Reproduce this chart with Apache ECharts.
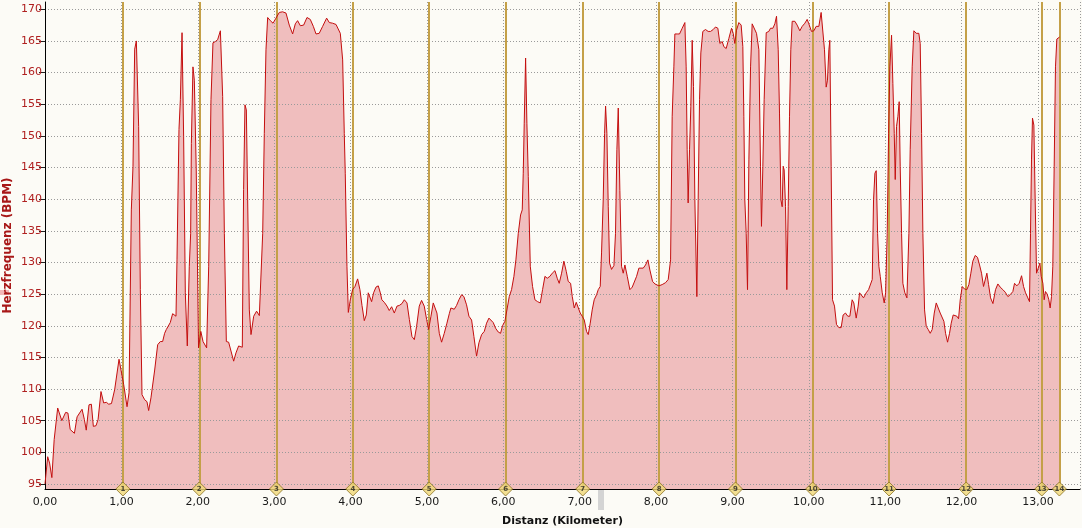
<!DOCTYPE html>
<html>
<head>
<meta charset="utf-8">
<script src="https://cdn.jsdelivr.net/npm/echarts@6/dist/echarts.min.js"></script>
<style>
html,body{margin:0;padding:0;background:#fcfbf6;}
#chart{width:1082px;height:528px;}
</style>
</head>
<body>
<div id="chart"></div>
<script>
// ---- data ----
const distKm = [
0.00,0.035,0.06,0.09,0.12,0.166,0.22,0.27,0.30,0.33,0.385,0.42,0.485,0.515,0.54,0.576,0.607,0.633,0.668,0.695,
0.733,0.768,0.803,0.834,0.87,0.912,0.969,0.995,1.03,1.074,1.10,1.13,1.152,1.174,1.196,1.226,1.248,1.27,1.305,1.335,
1.357,1.387,1.436,1.475,1.51,1.54,1.566,1.588,1.614,1.64,1.671,1.715,1.728,1.754,1.772,1.794,1.815,1.837,1.863,1.889,
1.907,1.916,1.937,1.955,1.98,2.01,2.04,2.069,2.116,2.143,2.173,2.199,2.23,2.26,2.296,2.326,2.348,2.374,2.404,2.435,
2.47,2.5,2.535,2.583,2.6,2.618,2.636,2.653,2.675,2.697,2.732,2.77,2.806,2.828,2.85,2.871,2.893,2.915,2.95,2.985,
3.024,3.067,3.111,3.155,3.198,3.242,3.277,3.307,3.343,3.386,3.43,3.473,3.513,3.548,3.59,3.635,3.687,3.722,3.765,3.81,
3.83,3.866,3.897,3.918,3.931,3.953,3.971,3.997,4.027,4.058,4.093,4.123,4.15,4.18,4.206,4.232,4.25,4.276,4.302,4.333,
4.363,4.39,4.41,4.442,4.477,4.507,4.538,4.573,4.608,4.638,4.673,4.704,4.739,4.77,4.804,4.835,4.865,4.9,4.93,4.965,
4.996,5.022,5.053,5.083,5.109,5.131,5.162,5.192,5.227,5.262,5.293,5.314,5.358,5.388,5.419,5.454,5.484,5.519,5.55,5.585,
5.615,5.65,5.681,5.716,5.751,5.781,5.812,5.838,5.868,5.899,5.934,5.964,5.99,6.021,6.052,6.078,6.108,6.139,6.165,6.196,
6.226,6.248,6.261,6.274,6.292,6.309,6.327,6.353,6.383,6.414,6.449,6.484,6.514,6.545,6.575,6.61,6.641,6.676,6.706,6.732,
6.763,6.793,6.824,6.85,6.881,6.903,6.929,6.955,6.981,7.007,7.033,7.06,7.09,7.112,7.138,7.164,7.19,7.221,7.243,7.269,
7.286,7.308,7.326,7.339,7.356,7.374,7.391,7.417,7.448,7.469,7.487,7.505,7.526,7.548,7.57,7.592,7.623,7.657,7.688,7.714,
7.745,7.775,7.801,7.832,7.862,7.893,7.919,7.954,7.985,8.037,8.08,8.124,8.159,8.19,8.211,8.233,8.246,8.277,8.307,8.342,
8.377,8.394,8.407,8.42,8.438,8.455,8.473,8.49,8.508,8.534,8.551,8.569,8.586,8.612,8.647,8.682,8.713,8.748,8.778,8.809,
8.835,8.866,8.887,8.918,8.953,8.988,9.01,9.031,9.053,9.084,9.114,9.136,9.149,9.162,9.18,9.197,9.215,9.237,9.258,9.284,
9.315,9.346,9.367,9.38,9.398,9.415,9.442,9.476,9.498,9.529,9.555,9.577,9.599,9.616,9.634,9.651,9.664,9.677,9.695,9.712,
9.73,9.747,9.764,9.782,9.817,9.847,9.882,9.913,9.948,9.978,10.0,10.035,10.066,10.096,10.131,10.161,10.183,10.205,10.227,10.244,
10.262,10.275,10.292,10.31,10.336,10.362,10.393,10.423,10.449,10.48,10.51,10.537,10.567,10.589,10.62,10.646,10.664,10.686,10.716,10.751,
10.782,10.808,10.83,10.847,10.865,10.882,10.9,10.917,10.935,10.961,10.987,11.005,11.026,11.044,11.061,11.083,11.1,11.118,11.131,11.148,
11.166,11.183,11.196,11.214,11.231,11.257,11.284,11.31,11.327,11.353,11.375,11.406,11.44,11.458,11.476,11.493,11.515,11.537,11.563,11.589,
11.615,11.642,11.668,11.694,11.72,11.746,11.768,11.79,11.816,11.842,11.864,11.89,11.916,11.938,11.96,11.982,12.008,12.038,12.069,12.095,
12.121,12.147,12.178,12.208,12.235,12.261,12.287,12.304,12.331,12.353,12.379,12.41,12.444,12.475,12.505,12.54,12.571,12.606,12.636,12.671,
12.693,12.723,12.754,12.785,12.811,12.837,12.867,12.889,12.902,12.915,12.928,12.946,12.963,12.981,13.003,13.025,13.042,13.064,13.081,13.098,
13.12,13.142,13.159,13.177,13.194,13.212,13.229,13.247,13.268,13.282
];
const heartRate = [
95,99.3,98.3,96,102,107,105,106.3,106.2,103.6,103,105.6,106.8,105.2,103.5,107.5,107.6,104.1,104.2,105.2,
109.6,107.8,107.9,107.6,107.7,109.9,114.7,114.5,110.7,107.2,109.4,138.3,145.2,163.7,165,151.5,125.7,109.1,108.3,108,
106.6,108.6,113,117,117.5,117.5,118.8,119.4,119.2,120.5,121.9,121.5,130.4,151,155.7,166.3,149.9,125.2,116.8,129.4,
134.6,148.8,160.9,158.8,144.6,116.5,119.1,117.5,116.5,129.4,155.7,164.7,164.9,165.2,166.6,156.2,134.6,117.5,117.4,116,
114.4,115.7,116.8,116.6,141.5,154.9,154.1,140,122.5,118.6,121.5,122.3,121.6,121.7,134.6,150.4,163.6,168.7,168.2,167.8,
168.6,169.5,169.6,169.4,167.5,166.1,167.7,168.2,167.4,167.5,168.7,168.4,167.3,166.1,166.2,167.3,168.6,167.9,167.8,167.6,
167.8,166.2,162,150.4,144.1,129.4,122.1,124.1,125.7,126.2,127.4,125.7,123.2,120.8,121.7,125.2,125.4,123.8,125.2,126.1,
126.3,125.2,124.1,123.7,123.1,122.4,123,122,123.1,123.2,123.5,124.1,123.6,121,118.3,117.8,119.9,123.1,124,123.1,
121,119.4,121.5,123.6,123.8,122,118.8,117.4,118.8,120.4,121.9,122.8,122.6,123.2,124.1,124.9,124.6,123.3,121.5,120.9,
118.3,115.2,117.3,118.6,119.1,120.4,121.2,121.4,120.5,119.6,119,118.8,120,120.7,122.8,124.6,125.7,127.8,130.4,134.6,
137.5,138.3,144.1,152,162.3,152,143.6,129.4,126.2,124.1,123.8,123.6,125.7,127.8,127.5,127.8,128.3,128.7,127.5,126.7,
128.3,130.2,128.6,127,126.7,124.6,122.8,123.7,123.5,122,121.5,120.9,119.1,118.6,120.4,122.5,124.1,124.9,125.7,126.2,
131.5,139.9,150.4,154.7,150.4,138.8,129.9,128.9,129.5,134.6,147.8,154.4,141.4,129.4,128.3,129.6,127.8,125.7,126.1,126.1,
127.8,129.1,129.4,129.1,129.6,130.4,128.8,127,126.6,126.3,126.5,126.8,127.3,130.4,153.1,160.9,166.1,166.1,166.1,167,
167.9,160.9,147.8,139.4,147.8,154.6,165.1,157.8,139.9,124.6,139.9,155.7,163.1,166.5,166.8,166.5,166.5,166.8,167.2,167,
164.6,164.9,164.1,163.8,165.4,167,166.2,164.6,166.7,167.9,167.5,164.1,153.1,139.9,134.6,125.7,146.2,160.9,167.7,167.5,
166.2,163.6,145.2,135.7,145.2,155.7,166.3,166.5,167,167,167.7,168.9,163.6,153.6,139.9,138.8,145.2,144.6,138.8,125.7,
138.8,153.1,163.6,168.1,168.1,167.5,166.6,167.3,167.8,168.4,167.7,166.5,166.6,167.3,167.3,169.5,169.4,163.6,157.7,158.8,
163.6,165.1,145.2,124.1,123.1,120.2,119.7,119.7,121.7,122,121.5,121.5,124.1,123.6,121.2,123.1,125.2,125.3,124.4,125.2,
125.7,125.4,127.3,139.9,144.1,144.5,134.6,129.4,127.8,125.2,123.6,125.2,134.6,150.4,160.9,165.9,158.3,150.4,143.1,151.5,
153.1,155.4,145.2,134.6,126.7,125.2,124.4,134.6,147.8,160.9,166.6,166.2,166.2,164.6,150.4,134.6,122.5,119.9,119.4,118.8,
119.4,122,123.6,123.3,122,121.7,120.7,118.8,117.4,118.8,120.4,121.7,122,121.5,121.1,124.1,126.2,125.8,125.7,126.5,
128.3,130.2,131.1,130.8,129.6,128.3,126.2,126.3,128.3,126.5,124.4,123.5,125.7,126.6,126.1,125.7,125.3,124.6,124.9,125.4,
126.7,126.3,126.7,127.9,126.2,125.2,124.4,123.8,134.6,146.2,152.8,151.7,139.9,128.3,128.3,129.9,127.8,126.7,124.1,125.4,
125,124.1,122.8,124.6,129.4,145.2,160.9,165.3,165.4,165.6
];
const lapKm = [1.02,2.02,3.03,4.03,5.03,6.03,7.04,8.04,9.04,10.05,11.05,12.06,13.05,13.28];
const lapLabels = ['1','2','3','4','5','6','7','8','9','10','11','12','13','14'];
const yTickMin = 95, yTickMax = 170, yTickStep = 5;
const xTickStep = 1;

// ---- chart ----
const X_MAX = 13.55;
const Y_LO = 94.2, Y_HI = 171.15;
const FONT = 'DejaVu Sans';
const chart = echarts.init(document.getElementById('chart'));
const hrData = distKm.map((d, i) => [d, heartRate[i]]);
const lapData = lapKm.map((d, i) => ({ value: [d, Y_LO], name: lapLabels[i] }));

chart.setOption({
  backgroundColor: '#fcfbf6',
  animation: false,
  graphic: [
    { type: 'rect', left: 0, top: 290, shape: { width: 9, height: 5 }, style: { fill: '#f2b8b8' }, z: 0 },
    { type: 'rect', left: 598, top: 490, shape: { width: 6, height: 20 }, style: { fill: '#d4d4d4' }, z: 0 }
  ],
  grid: [
    { left: 45, right: 2, top: 2, bottom: 39, containLabel: false, outerBoundsMode: 'none' },
    { left: 45, right: 2, top: 9.3, bottom: 44, containLabel: false, outerBoundsMode: 'none' }
  ],
  xAxis: [
    {
      gridIndex: 0, type: 'value', min: 0, max: X_MAX, interval: xTickStep, z: 3,
      name: 'Distanz (Kilometer)', nameLocation: 'middle', nameGap: 27,
      nameTextStyle: { fontFamily: FONT, fontWeight: 'bold', fontSize: 11, color: '#111' },
      axisLine: { show: true, onZero: false, lineStyle: { color: '#000', width: 1 } },
      axisTick: { show: false },
      axisLabel: { showMaxLabel: false, margin: 8, fontFamily: FONT, fontSize: 11, color: '#1a1a1a',
        formatter: v => v.toFixed(2).replace('.', ',') },
      splitLine: { show: true, lineStyle: { color: '#9a9a9a', width: 1, type: [1, 2] } }
    },
    { gridIndex: 1, type: 'value', min: 0, max: X_MAX, show: false }
  ],
  yAxis: [
    {
      gridIndex: 0, type: 'value', min: Y_LO, max: Y_HI, z: 3,
      name: 'Herzfrequenz (BPM)', nameLocation: 'middle', nameGap: 31, nameRotate: 90,
      nameTextStyle: { fontFamily: FONT, fontWeight: 'bold', fontSize: 12, color: '#a81818' },
      axisLine: { show: true, lineStyle: { color: '#000', width: 1 } },
      axisTick: { show: false }, axisLabel: { show: false }, splitLine: { show: false }
    },
    {
      gridIndex: 1, type: 'value', min: yTickMin, max: yTickMax, interval: yTickStep, z: 3,
      axisLine: { show: false },
      axisTick: { show: true, length: 6, lineStyle: { color: '#222' } },
      axisLabel: { margin: 3, fontFamily: FONT, fontSize: 11, color: '#b02020' },
      splitLine: { show: true, lineStyle: { color: '#9a9a9a', width: 1, type: [1, 2] } }
    }
  ],
  series: [
    {
      type: 'line', xAxisIndex: 0, yAxisIndex: 0, data: hrData, symbol: 'none', z: 1,
      lineStyle: { width: 0 }, areaStyle: { color: '#f0bebe', opacity: 1 }, silent: true
    },
    {
      type: 'line', xAxisIndex: 0, yAxisIndex: 0, data: hrData, symbol: 'none', z: 5,
      lineStyle: { color: '#c40f0f', width: 1 }, silent: true,
      markLine: {
        silent: true, symbol: ['none', 'none'], label: { show: false },
        lineStyle: { color: '#c4a048', width: 2, type: 'solid' },
        data: lapKm.map(d => ({ xAxis: d }))
      }
    },
    {
      type: 'scatter', xAxisIndex: 0, yAxisIndex: 0, data: lapData, clip: false, z: 6,
      symbol: 'diamond', symbolSize: [14, 14], silent: true,
      itemStyle: { color: '#f0d878', borderColor: '#8a7020', borderWidth: 1 },
      label: { show: true, position: 'inside', formatter: p => p.name,
        fontFamily: FONT, fontSize: 7, fontWeight: 'bold', color: '#222' }
    }
  ]
});
</script>
</body>
</html>
